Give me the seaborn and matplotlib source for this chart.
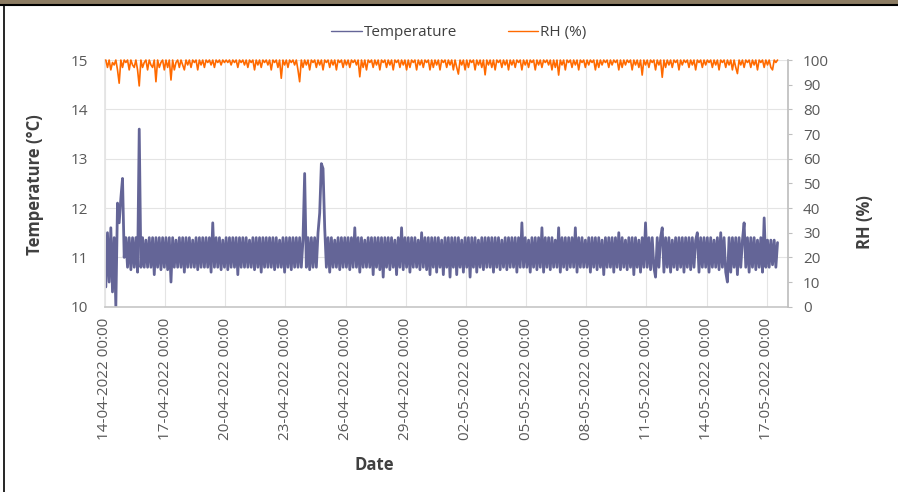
import pandas as pd
import matplotlib
matplotlib.use('Agg')
import matplotlib.pyplot as plt
import matplotlib.dates as mdates
from matplotlib.lines import Line2D
from matplotlib.patches import Rectangle
import seaborn as sns

# logger readings, one every 2 h starting 14-04-2022 01:00 (one row per day)
temperature = [
    10.4, 11.5, 10.5, 11.6, 10.3, 11.4, 10.0, 12.1, 11.7, 12.2, 12.6, 11.0,  # 14-04
    11.4, 10.8, 11.4, 10.75, 11.4, 10.8, 11.4, 10.7, 13.6, 10.8, 11.4, 10.8,  # 15-04
    11.35, 10.8, 11.4, 10.8, 11.4, 10.65, 11.4, 10.8, 11.4, 10.75, 11.4, 10.8,
    11.4, 10.75, 11.4, 10.5, 11.4, 10.8, 11.35, 10.8, 11.4, 10.8, 11.4, 10.7,
    11.4, 10.8, 11.4, 10.8, 11.35, 10.8, 11.4, 10.75, 11.4, 10.8, 11.4, 10.8,
    11.4, 10.8, 11.4, 10.7, 11.7, 10.8, 11.4, 10.8, 11.4, 10.75, 11.35, 10.8,  # 19-04
    11.4, 10.75, 11.4, 10.8, 11.4, 10.8, 11.4, 10.65, 11.4, 10.8, 11.4, 10.8,
    11.4, 10.8, 11.35, 10.8, 11.4, 10.75, 11.4, 10.8, 11.4, 10.7, 11.4, 10.8,
    11.4, 10.8, 11.4, 10.8, 11.4, 10.75, 11.4, 10.8, 11.35, 10.8, 11.4, 10.7,
    11.4, 10.8, 11.4, 10.75, 11.4, 10.8, 11.4, 10.8, 11.4, 10.8, 11.35, 12.7,  # 23-04
    10.8, 11.4, 10.75, 11.4, 10.8, 11.4, 10.8, 11.5, 11.9, 12.9, 12.8, 11.6,  # 24-04
    10.8, 11.4, 10.7, 11.4, 10.8, 11.35, 10.8, 11.4, 10.75, 11.4, 10.8, 11.4,
    10.8, 11.4, 10.75, 11.4, 10.8, 11.6, 10.8, 11.4, 10.7, 11.4, 10.8, 11.35,
    10.8, 11.4, 10.8, 11.4, 10.65, 11.4, 10.8, 11.4, 10.75, 11.4, 10.6, 11.4,
    10.8, 11.4, 10.75, 11.4, 10.8, 11.35, 10.65, 11.4, 10.8, 11.6, 10.75, 11.4,  # 28-04
    10.8, 11.4, 10.7, 11.4, 10.8, 11.4, 10.8, 11.35, 10.75, 11.5, 10.8, 11.4,
    10.75, 11.4, 10.65, 11.4, 10.8, 11.4, 10.7, 11.4, 10.8, 11.35, 10.65, 11.4,
    10.8, 11.4, 10.6, 11.4, 10.8, 11.4, 10.65, 11.4, 10.8, 11.35, 10.7, 11.4,  # 01-05
    10.8, 11.4, 10.6, 11.4, 10.8, 11.4, 10.7, 11.35, 10.8, 11.4, 10.75, 11.4,
    10.8, 11.4, 10.8, 11.4, 10.7, 11.4, 10.8, 11.4, 10.75, 11.35, 10.8, 11.4,
    10.75, 11.4, 10.8, 11.4, 10.8, 11.4, 10.7, 11.4, 10.8, 11.7, 10.8, 11.4,  # 04-05
    10.8, 11.35, 10.7, 11.4, 10.8, 11.4, 10.75, 11.4, 10.8, 11.6, 10.7, 11.4,
    10.8, 11.4, 10.75, 11.4, 10.8, 11.35, 10.8, 11.6, 10.7, 11.4, 10.8, 11.4,
    10.75, 11.4, 10.8, 11.4, 10.8, 11.6, 10.7, 11.4, 10.8, 11.4, 10.8, 11.35,
    10.8, 11.4, 10.7, 11.4, 10.8, 11.4, 10.75, 11.4, 10.8, 11.35, 10.65, 11.4,  # 08-05
    10.8, 11.4, 10.8, 11.4, 10.7, 11.4, 10.8, 11.5, 10.75, 11.4, 10.8, 11.35,
    10.75, 11.4, 10.8, 11.4, 10.65, 11.4, 10.8, 11.35, 10.7, 11.4, 10.8, 11.7,
    10.8, 11.4, 10.75, 11.4, 10.8, 10.6, 11.4, 10.8, 11.4, 11.6, 10.7, 11.4,  # 11-05
    10.8, 11.4, 10.7, 11.35, 10.8, 11.4, 10.75, 11.4, 10.8, 11.4, 10.7, 11.4,
    10.8, 11.4, 10.75, 11.4, 10.8, 11.35, 11.5, 10.7, 11.4, 10.8, 11.4, 10.8,
    11.4, 10.7, 11.4, 10.8, 11.35, 10.8, 11.4, 10.75, 11.5, 10.8, 11.4, 10.7,  # 14-05
    10.5, 11.4, 10.7, 11.4, 10.8, 11.4, 10.65, 11.4, 10.8, 11.35, 11.7, 10.8,
    11.4, 10.7, 11.4, 10.8, 11.4, 10.75, 11.35, 10.8, 11.4, 10.7, 11.8, 10.8,
    11.35, 10.8, 11.35, 10.85, 11.35, 10.8, 11.3,                            # 17-05
]

rh = [
    100, 97, 100, 96, 99, 98, 100, 96, 90.6, 100, 97, 100,  # 14-04
    99, 100, 96, 100, 98, 97, 100, 96, 89.5, 100, 97, 99,
    100, 96, 100, 98, 97, 100, 91.2, 100, 97, 99, 100, 96,
    100, 97, 100, 91.9, 100, 96, 99, 100, 97, 100, 98, 96,
    100, 98, 100, 97, 100, 99, 100, 96, 100, 98, 100, 97,
    100, 99, 100, 98, 100, 97, 100, 99, 100, 98, 100, 99,  # 19-04
    100, 99, 100, 98, 100, 99, 100, 97, 100, 99, 100, 98,
    100, 97, 100, 99, 100, 96, 100, 98, 100, 97, 100, 99,
    100, 98, 100, 96, 100, 99, 100, 97, 100, 92.6, 100, 98,
    100, 97, 100, 99, 100, 98, 100, 96, 91.2, 100, 97, 100,
    98, 100, 96, 100, 99, 100, 97, 100, 98, 100, 96, 100,  # 24-04
    99, 100, 97, 100, 98, 100, 96, 100, 99, 100, 97, 100,
    98, 100, 97, 100, 99, 100, 98, 100, 93.2, 100, 97, 100,
    96, 100, 99, 100, 97, 100, 98, 100, 96, 100, 99, 100,
    97, 100, 98, 100, 96, 100, 99, 100, 97, 100, 98, 100,
    96, 100, 97, 100, 99, 100, 96, 100, 98, 100, 97, 100,  # 29-04
    99, 100, 96, 100, 97, 100, 98, 100, 96, 100, 99, 100,
    97, 100, 98, 100, 96, 100, 97, 94.3, 100, 98, 100, 96,
    100, 97, 100, 99, 100, 96, 100, 98, 100, 97, 100, 94,
    100, 98, 100, 97, 100, 96, 100, 99, 100, 97, 100, 98,
    100, 96, 100, 98, 100, 97, 100, 99, 100, 96, 100, 98,  # 04-05
    100, 97, 100, 99, 100, 96, 100, 98, 100, 97, 100, 99,
    100, 98, 100, 96, 100, 97, 100, 93.9, 100, 98, 100, 96,
    100, 99, 100, 97, 100, 98, 100, 96, 100, 99, 100, 97,
    100, 98, 100, 99, 100, 96, 100, 97, 100, 98, 100, 99,
    100, 97, 100, 98, 100, 99, 100, 96, 100, 97, 100, 98,  # 09-05
    100, 99, 100, 96, 100, 98, 100, 97, 100, 93.9, 100, 98,
    100, 97, 100, 99, 100, 96, 100, 98, 100, 93, 100, 97,
    100, 98, 100, 97, 100, 99, 100, 96, 100, 98, 100, 99,
    100, 97, 100, 98, 100, 96, 100, 99, 100, 97, 100, 98,
    100, 99, 100, 97, 100, 98, 100, 96, 100, 99, 100, 97,  # 14-05
    100, 98, 100, 96, 100, 97, 94.5, 100, 98, 100, 97, 100,
    99, 100, 97, 100, 98, 100, 96, 100, 99, 100, 97, 100,
    98, 100, 97, 96, 100, 99, 100,                          # 17-05
]

first_reading = '2022-04-14 01:00'
date_ticks = pd.date_range('2022-04-14', '2022-05-17', freq='3D')

temp_color = '#646597'
rh_color = '#ff6a00'
text_color = '#595959'

df = pd.DataFrame({
    'Date': pd.date_range(first_reading, periods=len(temperature), freq='2h'),
    'Temperature': temperature,
    'RH (%)': rh,
})

sns.set_theme(style='white')
plt.rcParams['font.family'] = ['Open Sans', 'DejaVu Sans']
plt.rcParams['path.simplify'] = False  # keep every back-and-forth of the dense series

fig = plt.figure(figsize=(8.98, 4.92), dpi=100)
ax = fig.add_axes([0.1169, 0.3766, 0.7603, 0.5014])
ax2 = ax.twinx()

sns.lineplot(data=df, x='Date', y='Temperature', ax=ax, color=temp_color, lw=2.0)
sns.lineplot(data=df, x='Date', y='RH (%)', ax=ax2, color=rh_color, lw=1.2, clip_on=False)

# axes ranges / ticks
ax.set_xlim(pd.Timestamp('2022-04-14'), pd.Timestamp('2022-04-14') + pd.Timedelta(days=34.05))
ax.set_ylim(10, 15)
ax.set_yticks(range(10, 16))
ax2.set_ylim(0, 100)
ax2.set_yticks(range(0, 101, 10))
ax.set_xticks(date_ticks)
ax.xaxis.set_major_formatter(mdates.DateFormatter('%d-%m-%Y %H:%M'))

ax.tick_params(axis='x', rotation=90, length=0, pad=8, labelsize=11, labelcolor=text_color)
ax.tick_params(axis='y', length=0, pad=12, labelsize=11, labelcolor=text_color)
ax2.tick_params(axis='y', length=3, width=0.8, color='#bfbfbf', pad=8,
                labelsize=11, labelcolor=text_color)

ax.grid(True, color='#e4e4e4', lw=0.8)
ax.set_axisbelow(True)

for s in ['top', 'right']:
    ax.spines[s].set_visible(False)
ax.spines['left'].set_color('#e4e4e4')
ax.spines['bottom'].set_color('#c8c8c8')
for s in ['top', 'left', 'bottom']:
    ax2.spines[s].set_visible(False)
ax2.spines['right'].set_color('#bfbfbf')

# axis titles
title_kw = dict(fontsize=12, fontweight='bold', color='#404040', va='center')
ax.set_xlabel('Date', **title_kw)
ax.xaxis.set_label_coords(0.395, -0.642)
ax.set_ylabel('Temperature (°C)', **title_kw)
ax.yaxis.set_label_coords(-0.1025, 0.493)
ax2.set_ylabel('RH (%)', rotation=90, **title_kw)
ax2.yaxis.set_label_coords(1.113, 0.343)

handles = [Line2D([], [], color=temp_color, lw=1), Line2D([], [], color=rh_color, lw=1)]
fig.legend(handles, ['Temperature', 'RH (%)'], loc='center', bbox_to_anchor=(0.511, 0.933),
           ncol=2, frameon=False, fontsize=11, handlelength=2.0, handletextpad=0.15,
           columnspacing=3.3, labelcolor='#404040')

# screenshot frame
fig.add_artist(Rectangle((0, 1 - 4 / 492), 1, 4 / 492, transform=fig.transFigure,
                         color='#8c7c63', lw=0))
fig.add_artist(Line2D([0, 1], [1 - 5.2 / 492] * 2, transform=fig.transFigure, color='black', lw=1.5))
fig.add_artist(Line2D([3.5 / 898] * 2, [0, 1 - 5.2 / 492], transform=fig.transFigure,
                      color='black', lw=1.2))

fig.savefig('out.png', dpi=100)
